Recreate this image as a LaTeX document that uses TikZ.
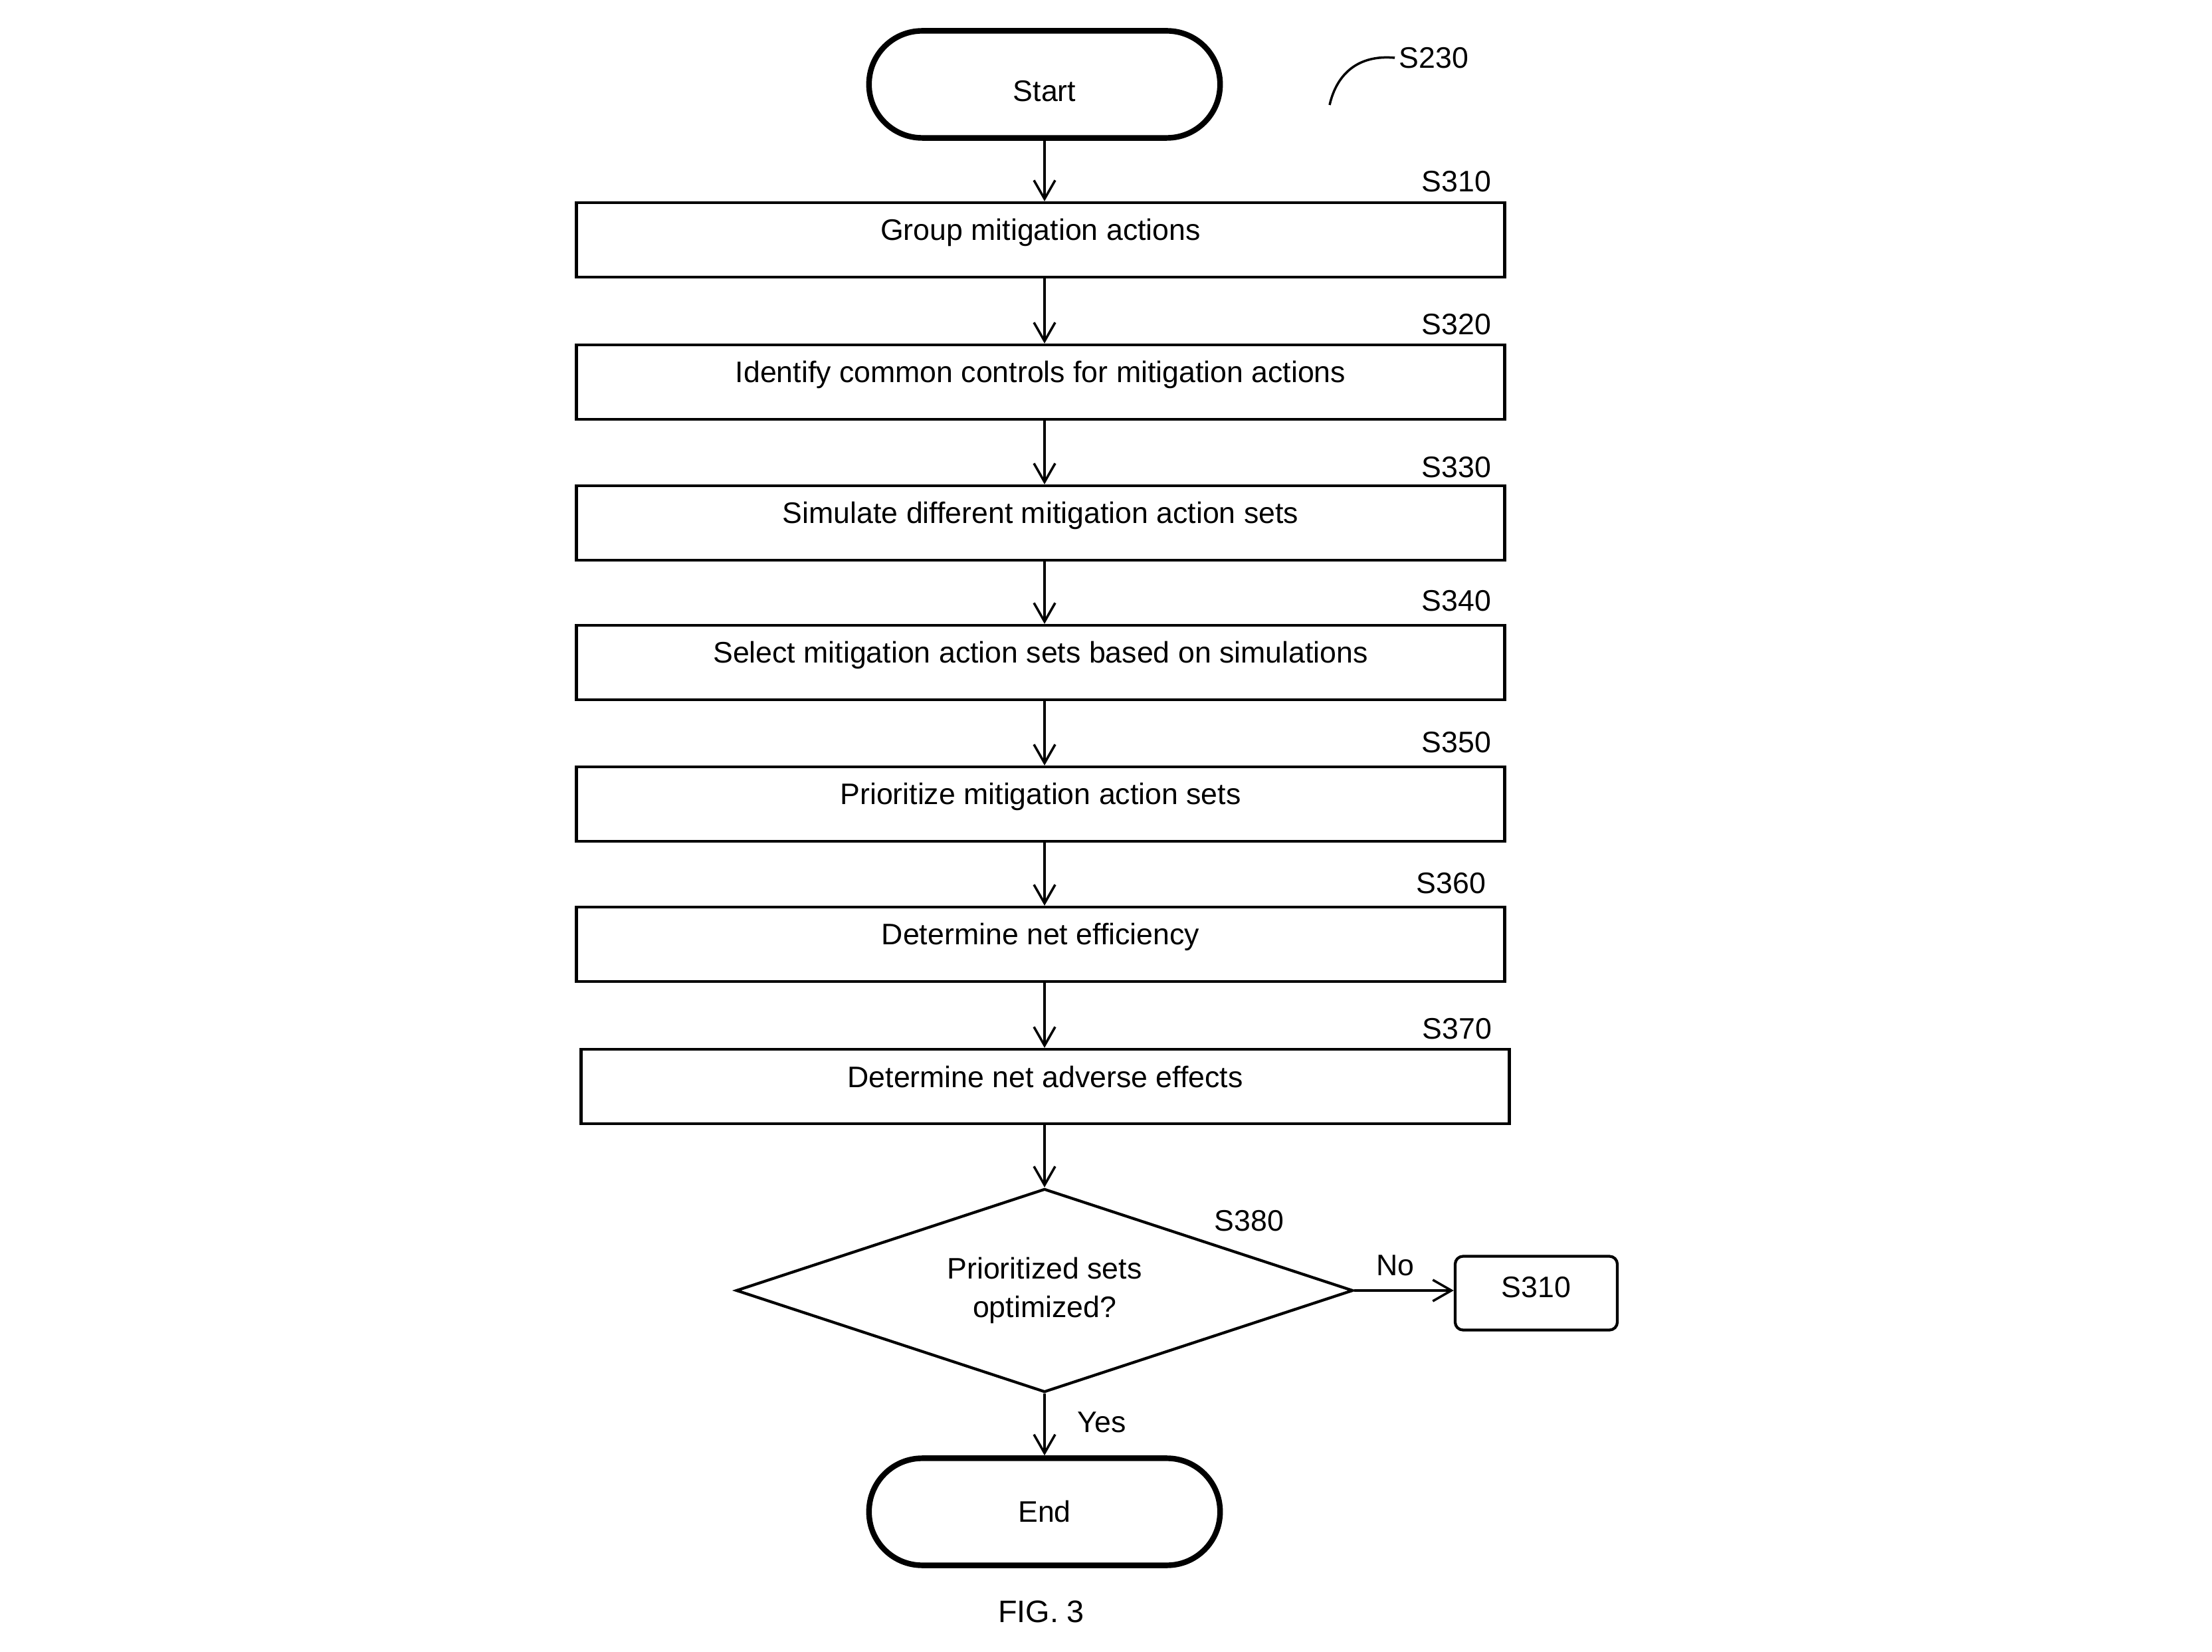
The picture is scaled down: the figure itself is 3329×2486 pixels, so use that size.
\documentclass[tikz,border=0pt]{standalone}
\usepackage{fontspec}
\setmainfont{Liberation Sans}
\usetikzlibrary{shapes.geometric,arrows.meta}
\begin{document}
\begin{tikzpicture}[x=0.01cm,y=-0.01cm,
  every node/.style={font=\fontsize{12.7}{15.2}\selectfont},
  term/.style={draw, line width=2.4pt, rounded corners=0.8cm, minimum width=5.28cm, minimum height=1.61cm, inner sep=0pt},
  stepbox/.style={draw, line width=1.2pt, minimum width=13.96cm, minimum height=1.12cm, text height=0.35cm, text depth=0.33cm, inner sep=0pt},
  decision/.style={draw, diamond, line width=1.2pt, minimum width=9.28cm, minimum height=3.06cm, aspect=3.03, inner sep=0pt, align=center},
  refbox/.style={draw, line width=1.2pt, rounded corners=0.12cm, minimum width=2.44cm, minimum height=1.11cm, inner sep=0pt, text height=0.32cm, text depth=0.2cm},
  conn/.style={line width=1pt, -{Straight Barb[length=0.28cm,width=0.32cm]}},
  lbl/.style={inner sep=0pt}
]
\useasboundingbox (0,0) rectangle (3329,2486);

\node[term, text height=0.52cm, text depth=0pt] (start) at (1572,127) {Start};
\node[stepbox] (s310) at (1566,361) {Group mitigation actions};
\node[stepbox] (s320) at (1566,575) {Identify common controls for mitigation actions};
\node[stepbox] (s330) at (1566,787) {Simulate different mitigation action sets};
\node[stepbox] (s340) at (1566,997) {Select mitigation action sets based on simulations};
\node[stepbox] (s350) at (1566,1210) {Prioritize mitigation action sets};
\node[stepbox] (s360) at (1566,1421) {Determine net efficiency};
\node[stepbox] (s370) at (1573,1635) {Determine net adverse effects};
\node[decision] (dec) at (1572,1942) {Prioritized sets\\[0.05cm]optimized?};
\node[refbox] (r310) at (2312,1946) {S310};
\node[term] (end) at (1572,2275) {End};

\node[lbl] (l230) at (2158,87) {S230};
\node[lbl] (l310) at (2192,273) {S310};
\node[lbl] (l320) at (2192,488) {S320};
\node[lbl] (l330) at (2192,703) {S330};
\node[lbl] (l340) at (2192,904) {S340};
\node[lbl] (l350) at (2192,1117) {S350};
\node[lbl] (l360) at (2184,1329) {S360};
\node[lbl] (l370) at (2193,1548) {S370};
\node[lbl] (l380) at (1880,1837) {S380};
\node[lbl] (no) at (2100,1904) {No};
\node[lbl] (yes) at (1658,2140) {Yes};
\node[lbl, font=\fontsize{13.3}{16}\selectfont] (fig) at (1567,2425) {FIG. 3};

\coordinate (c230) at (2001,158);
\draw[line width=1pt] (c230) .. controls (2012,110) and (2045,82) .. ([xshift=-0.06cm]l230.west);

\draw[conn] (start.south) -- (start.south |- s310.north);
\draw[conn] (s310.south -| start) -- (s320.north -| start);
\draw[conn] (s320.south -| start) -- (s330.north -| start);
\draw[conn] (s330.south -| start) -- (s340.north -| start);
\draw[conn] (s340.south -| start) -- (s350.north -| start);
\draw[conn] (s350.south -| start) -- (s360.north -| start);
\draw[conn] (s360.south -| start) -- (s370.north -| start);
\draw[conn] (s370.south -| dec) -- (dec.north);
\draw[conn] (dec.east) -- (dec.east -| r310.west);
\draw[conn] (dec.south) -- (end.north);
\end{tikzpicture}
\end{document}
